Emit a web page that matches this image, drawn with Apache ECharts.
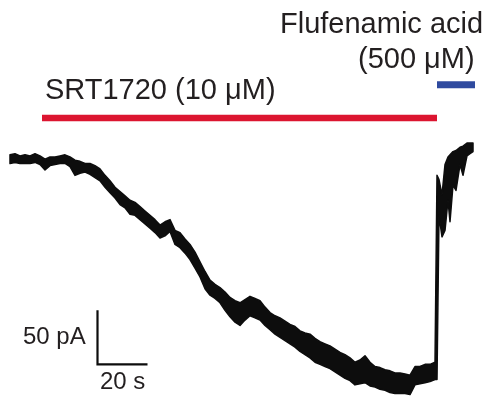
<!DOCTYPE html>
<html><head><meta charset="utf-8">
<script src="https://cdn.jsdelivr.net/npm/echarts@6/dist/echarts.min.js"></script>
<style>html,body{margin:0;padding:0;background:#fff}#c{width:485px;height:396px}</style>
</head><body><div id="c"></div>
<script>
// time (s) of each envelope sample
const traceTime = [0,2,4,6,8,10,12,14,16,18,20,22,24,26,28,30,32,34,36,38,40,42,44,46,48,50,52,54,56,58,60,62,64,66,68,70,72,74,76,78,80,82,84,86,88,90,92,94,96,98,100,102,104,106,108,110,112,114,116,118,120,122,124,126,128,130,132,134,136,138,140,142,144,146,148,150,152,154,156,158,160,162,164,166,168,170,
  170.8,171.6,172.8,174,175.2,176,177.2,178.4,180,181.2,182.8,184,185.2];
// upper edge of the noisy current band (pA)
const traceTop = [2,3,1,2,1,3,1,-2,0,0,1,2,0,-3,-4,-6,-6,-8,-11,
  -17,-22,-28,-32,-36,-40,-42,-46,-50,-54,-58,-63,-60,-58,-68,-70,-76,-81,-88,-97,
  -106,-114,-118,-121,-125,-130,-133,-135,-132,-129,-131,-133,-139,-144,-147,-149,-152,-155,-157,-161,
  -163,-164,-168,-171,-173,-175,-178,-181,-183,-186,-190,-188,-184,-190,-194,-195,-197,-198,-200,-200,
  -201,-202,-194,-194,-192,-192,-190,
  -17,-21,-35,-7,0,2,5,6,9,10,13,13,13];
// lower edge of the noisy current band (pA)
const traceBottom = [-6,-5,-6,-6,-6,-5,-7,-12,-8,-7,-6,-6,-9,-17,-15,-14,-16,-19,-22,
  -28,-33,-38,-44,-47,-53,-54,-58,-62,-66,-70,-75,-73,-69,-81,-84,-89,-95,-103,-111,
  -122,-128,-131,-135,-142,-148,-153,-156,-151,-147,-149,-151,-156,-160,-164,-167,-170,-173,-176,-180,
  -183,-186,-190,-192,-194,-196,-199,-202,-205,-207,-211,-210,-209,-212,-213,-215,-216,-218,-219,-219,
  -219,-220,-211,-210,-209,-208,-206,
  -206,-54,-74,-68,-40,-60,-26,-31,-7,-17,1,3,5];
// drug application bars
const srtTime = [12.8, 170.8];
const srtLevel = 36;
const ffaTime = [170.8, 186];
const ffaLevel = 67;
// scale bars: 20 s, 50 pA
const scaleTime = [35, 55];
const scaleCurrent = [-142, -192];

const chart = echarts.init(document.getElementById('c'), null, {renderer: 'canvas'});
const font = '"Liberation Sans", Arial, sans-serif';
const txt = '#231f20';
const ink = '#0d0d0d';
chart.setOption({
  animation: false,
  grid: {left: 10, top: 5.8, width: 475, height: 388.8},
  xAxis: {type: 'value', min: 0, max: 190, show: false},
  yAxis: {type: 'value', min: -220, max: 140, show: false},
  series: [
    {type: 'custom', clip: false,
     data: [[traceTime[0], traceTop[0]]],
     renderItem: function (params, api) {
       const pts = [];
       for (let i = 0; i < traceTime.length; i++) pts.push(api.coord([traceTime[i], traceTop[i]]));
       for (let i = traceTime.length - 1; i >= 0; i--) pts.push(api.coord([traceTime[i], traceBottom[i]]));
       return {type: 'polygon', shape: {points: pts},
               style: {fill: ink, stroke: ink, lineWidth: 1.5, lineJoin: 'round'}};
     }},
    {type: 'line', clip: false, symbol: 'none', lineStyle: {color: '#dc1530', width: 6.5, cap: 'butt'},
     data: srtTime.map(t => [t, srtLevel])},
    {type: 'line', clip: false, symbol: 'none', lineStyle: {color: '#2f4a9f', width: 7, cap: 'butt'},
     data: ffaTime.map(t => [t, ffaLevel])},
    {type: 'line', clip: false, symbol: 'none', lineStyle: {color: ink, width: 2.2, cap: 'butt', join: 'miter'},
     data: [[scaleTime[0], scaleCurrent[0]], [scaleTime[0], scaleCurrent[1]], [scaleTime[1], scaleCurrent[1]]]}
  ],
  graphic: [
    {type: 'text', x: 280, y: 25, style: {text: 'Flufenamic acid', font: '29px ' + font, fill: txt, align: 'left', verticalAlign: 'middle'}},
    {type: 'text', x: 358, y: 60, style: {text: '(500 μM)', font: '29px ' + font, fill: txt, align: 'left', verticalAlign: 'middle'}},
    {type: 'text', x: 45, y: 91, style: {text: 'SRT1720 (10 μM)', font: '29px ' + font, fill: txt, align: 'left', verticalAlign: 'middle'}},
    {type: 'text', x: 23, y: 337, style: {text: '50 pA', font: '24px ' + font, fill: txt, align: 'left', verticalAlign: 'middle'}},
    {type: 'text', x: 100, y: 382, style: {text: '20 s', font: '24px ' + font, fill: txt, align: 'left', verticalAlign: 'middle'}}
  ]
});
</script></body></html>
